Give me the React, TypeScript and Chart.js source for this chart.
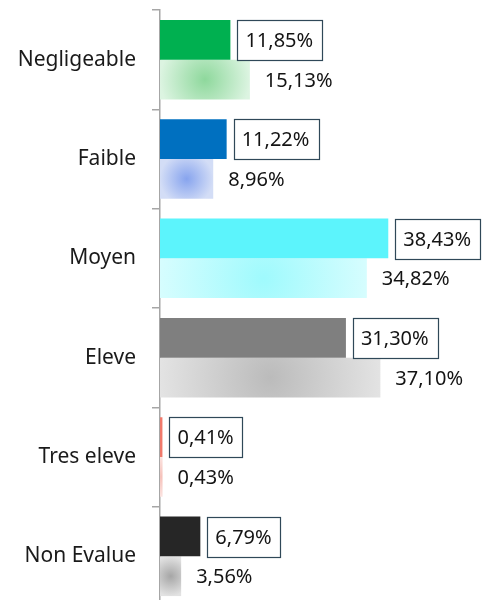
import React, { useEffect, useRef } from "react";
import { Chart, registerables } from "chart.js";

Chart.register(...registerables);

const categories = ["Negligeable", "Faible", "Moyen", "Eleve", "Tres eleve", "Non Evalue"];
const seriesA = [11.85, 11.22, 38.43, 31.3, 0.41, 6.79];
const seriesB = [15.13, 8.96, 34.82, 37.1, 0.43, 3.56];

const solidColors = ["#00b050", "#0070c0", "#5cf4fc", "#7f7f7f", "#f07a6c", "#262626"];
const lightCenter = ["#8ed89c", "#87a4ee", "#9ffafd", "#bbbbbb", "#f6c2bb", "#a6a6a6"];
const lightEdge = ["#dcf4e1", "#d3ddf6", "#d6fdfe", "#e3e3e3", "#fbe3e0", "#e2e2e2"];

const FONT = "'Noto Sans', sans-serif";

const fmt = (v: number) => v.toFixed(2).replace(".", ",") + "%";

const gradientPlugin = {
  id: "radialBars",
  beforeDatasetDraw(chart: any, args: any) {
    if (args.index !== 1) return;
    const ctx = chart.ctx;
    const meta = chart.getDatasetMeta(1);
    meta.data.forEach((el: any, i: number) => {
      const x = el.x;
      const base = el.base;
      const y = el.y;
      const h = el.height;
      const cx = (x + base) / 2;
      const r = Math.max(Math.abs(x - base) / 2, h / 2, 1);
      const g = ctx.createRadialGradient(cx, y, 0, cx, y, r);
      g.addColorStop(0, lightCenter[i]);
      g.addColorStop(1, lightEdge[i]);
      el.options.backgroundColor = g;
    });
  },
};

const labelPlugin = {
  id: "valueLabels",
  afterDatasetsDraw(chart: any) {
    const ctx = chart.ctx;
    const fs = 20;
    ctx.save();
    ctx.font = `${fs}px ${FONT}`;
    ctx.textAlign = "left";
    ctx.textBaseline = "alphabetic";
    [0, 1].forEach((di) => {
      const meta = chart.getDatasetMeta(di);
      const data = chart.data.datasets[di].data as number[];
      meta.data.forEach((el: any, i: number) => {
        const text = fmt(data[i]);
        const tw = ctx.measureText(text).width;
        const end = el.x;
        const y = el.y;
        const h = el.height;
        const tx = end + 15;
        if (di === 0) {
          const bx = Math.round(end + 7) + 0.5;
          const by = Math.round(y - h / 2) + 0.5;
          const bw = Math.round(tw + 17);
          const bh = Math.round(h);
          ctx.fillStyle = "#ffffff";
          ctx.fillRect(bx, by, bw, bh);
          ctx.strokeStyle = "#2f4858";
          ctx.lineWidth = 1.2;
          ctx.strokeRect(bx, by, bw, bh);
        }
        ctx.fillStyle = "#141414";
        ctx.fillText(text, tx, y + fs * 0.36);
      });
    });
    ctx.restore();
  },
};

export default function App() {
  const canvasRef = useRef<HTMLCanvasElement | null>(null);

  useEffect(() => {
    if (!canvasRef.current) return;
    const chart = new Chart(canvasRef.current, {
      type: "bar",
      data: {
        labels: categories,
        datasets: [
          {
            data: seriesA,
            backgroundColor: (c: any) => solidColors[c.dataIndex],
            borderWidth: 0,
            categoryPercentage: 0.8,
            barPercentage: 1.0,
          },
          {
            data: seriesB,
            backgroundColor: (c: any) => lightEdge[c.dataIndex],
            borderWidth: 0,
            categoryPercentage: 0.8,
            barPercentage: 1.0,
          },
        ],
      },
      options: {
        indexAxis: "y",
        responsive: true,
        maintainAspectRatio: false,
        animation: false,
        events: [],
        layout: { padding: { top: 10, right: 27, bottom: 0, left: 0 } },
        plugins: {
          legend: { display: false },
          tooltip: { enabled: false },
        },
        scales: {
          x: {
            display: false,
            min: 0,
            max: 50,
          },
          y: {
            afterFit: (scale: any) => {
              scale.width = 160;
              scale.paddingTop = 0;
              scale.paddingBottom = 0;
            },
            grid: {
              display: true,
              offset: true,
              drawOnChartArea: false,
              drawTicks: true,
              tickLength: 8,
              color: "#a6a6a6",
              lineWidth: 1.5,
            },
            border: { display: true, color: "#a6a6a6", width: 1.5 },
            ticks: {
              padding: 16,
              color: "#1a1a1a",
              font: { family: FONT, size: 21 },
            },
          },
        },
      },
      plugins: [gradientPlugin, labelPlugin],
    } as any);
    return () => chart.destroy();
  }, []);

  return (
    <div style={{ position: "fixed", left: 0, top: 0, width: 484, height: 606, background: "#fff" }}>
      <canvas ref={canvasRef} />
    </div>
  );
}
